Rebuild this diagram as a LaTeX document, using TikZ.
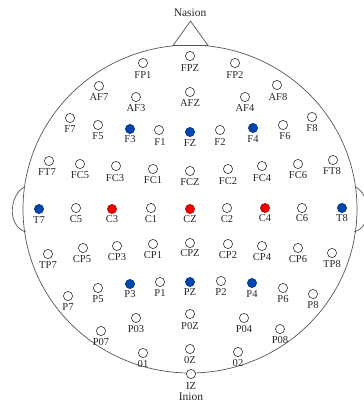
\documentclass[tikz,border=0pt]{standalone}
\usepackage{fontspec}
\setmainfont{Liberation Serif}
\definecolor{eblue}{HTML}{0046B0}
\definecolor{ered}{HTML}{F00000}
\definecolor{headgray}{HTML}{555555}
\tikzset{
  headline/.style={draw=headgray, line width=0.7bp},
  elec/.style={circle, draw=black!80, line width=0.6bp, minimum size=9.2bp, inner sep=0pt},
  eo/.style={elec, fill=white},
  eb/.style={elec, fill=eblue, draw=eblue!70!black},
  er/.style={elec, fill=ered, draw=ered!80!black},
  lab/.style={inner sep=0pt, font=\fontsize{10.6}{12}\selectfont, text=black!85},
  biglab/.style={lab, font=\fontsize{11.5}{13}\selectfont},
}
\begin{document}
\begin{tikzpicture}[x=1bp, y=-1bp]
\useasboundingbox (0,0) rectangle (364,402);
\clip (0,0) rectangle (364,402);
% head
\draw[headline] (190,209) ellipse [x radius=167, y radius=164];
% nose
\draw[headline, fill=white] (173,45.5) -- (190.5,21) -- (208,45.5) -- cycle;
% ears
\draw[headline] (24.5,187) .. controls (10,194) and (6,226) .. (26,232);
\draw[headline] (355.5,187) .. controls (370,194) and (374,226) .. (354,232);
\node[biglab] (nasion) at (190,13) {Nasion};
\node[biglab] (inion) at (191,397) {Inion};
\foreach \n/\cx/\cy/\lx/\ly/\t in {
FP1/143/63/143/75/eo, FPZ/190/56/190/68/eo, FP2/235/63/235/75/eo,
AF7/99/86/99/97/eo, AF3/136/97/136/108/eo, AFZ/190/92/190/103/eo, AF4/245/97/245/108/eo, AF8/277/85/278/97/eo,
F7/70/118/70/129/eo, F5/98/125/98/136/eo, F3/130/129/130/139/eb, F1/159/130/160/142/eo, FZ/190/132/190/143/eb, F2/220/130/220/142/eo, F4/253/128/253/139/eb, F6/283/125/285/136/eo, F8/312/117/312/128/eo,
FT7/49/161/47/172/eo, FC5/80/164/80/175/eo, FC3/116/166/115/178/eo, FC1/153/169/153/180/eo, FCZ/190/171/190/182/eo, FC2/228/169/228/181/eo, FC4/262/166/262/178/eo, FC6/298/164/298/175/eo, FT8/333/160/332/171/eo,
T7/39/209/39/220/eb, C5/76/208/76/219/eo, C3/112/209/112/219/er, C1/151/208/151/219/eo, CZ/190/209/190/219/er, C2/227/208/227/219/eo, C4/265/208/265/218/er, C6/302/208/302/218/eo, T8/342/208/342/218/eb,
TP7/48/254/48/265/eo, CP5/83/248/82/259/eo, CP3/117/246/117/257/eo, CP1/153/244/153/255/eo, CPZ/190/243/190/253/eo, CP2/228/244/228/255/eo, CP4/262/246/262/257/eo, CP6/298/248/298/259/eo, TP8/332/253/332/264/eo,
P7/68/296/68/307/eo, P5/98/288/98/299/eo, P3/130/284/130/294/eb, P1/160/282/160/293/eo, PZ/190/282/190/292/eb, P2/221/281/221/292/eo, P4/252/283/252/294/eb, P6/283/288/283/299/eo, P8/313/294/313/305/eo,
P03/136/318/136/329/eo, P0Z/190/314/190/326/eo, P04/244/318/244/329/eo, P07/101/331/101/342/eo, P08/280/329/280/340/eo,
01/143/353/143/364/eo, 0Z/190/349/190/360/eo, 02/238/352/238/363/eo, IZ/191/374/191/386/eo}
{
  \node[\t] (e-\n) at (\cx,\cy) {};
  \node[lab] (l-\n) at (\lx,\ly) {\n};
}
\end{tikzpicture}
\end{document}
